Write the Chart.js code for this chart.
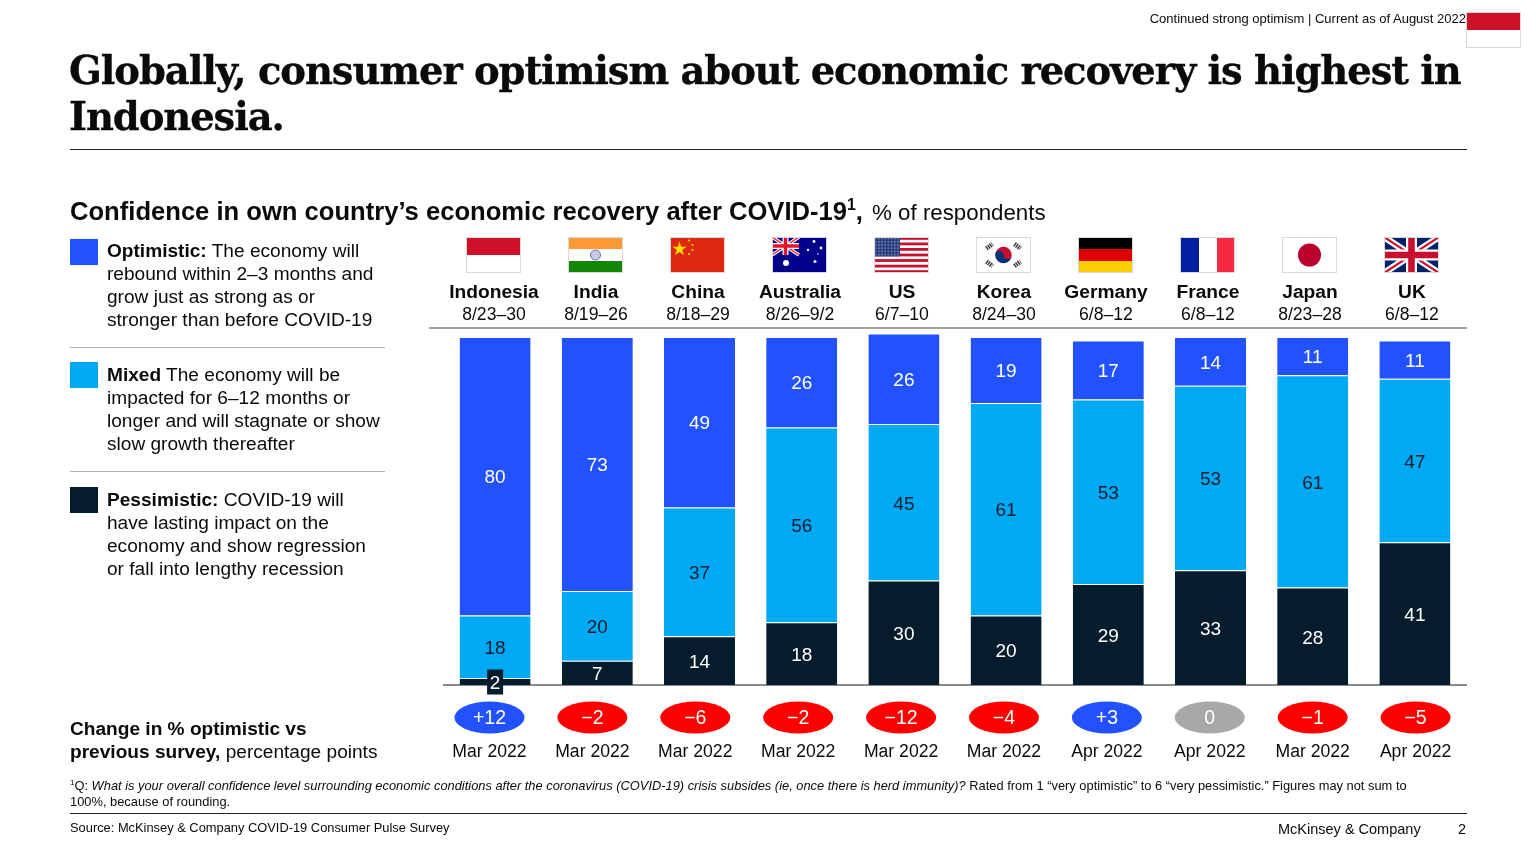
<!DOCTYPE html>
<html><head><meta charset="utf-8">
<script src="https://cdn.jsdelivr.net/npm/chart.js@4"></script>
<style>
html,body{margin:0;padding:0;background:#fff;width:1536px;height:864px;overflow:hidden;font-family:"Liberation Sans",Arial,sans-serif;color:#0a0a0a}
#c{position:absolute;left:0;top:0}
.t{position:absolute;white-space:nowrap}
.rule{position:absolute;height:1px}
.sw{position:absolute;left:70px;width:28px;height:26px}
.leg{position:absolute;left:107px;font-size:19.1px;line-height:23px;white-space:nowrap}
.flag{position:absolute;width:55px;height:36px;top:237px;box-sizing:border-box}
svg{display:block}
sup{font-size:62%;line-height:0}
</style></head><body>
<canvas id="c" width="1536" height="864"></canvas>
<div class="t" style="right:70px;top:11px;font-size:13px;line-height:15px">Continued strong optimism | Current as of August 2022</div>
<div class="t" id="corner" style="left:1466px;top:12px"></div>
<div class="t" style="left:69px;top:48px;font-family:'DejaVu Serif',serif;font-weight:700;font-size:38.5px;line-height:46px;letter-spacing:-1.08px;-webkit-text-stroke:.3px #0a0a0a">Globally, consumer optimism about economic recovery is highest in<br>Indonesia.</div>
<div class="rule" style="left:70px;width:1397px;top:149px;background:#222"></div>
<div class="t" style="left:70px;top:196px;line-height:30px;font-size:25.6px;font-weight:700">Confidence in own country’s economic recovery after COVID-19<sup>1</sup>, <span style="font-weight:400;font-size:22.3px;margin-left:2px">% of respondents</span></div>

<div class="sw" style="top:239px;background:#2251ff"></div>
<div class="leg" style="top:239px"><b>Optimistic:</b> The economy will<br>rebound within 2–3 months and<br>grow just as strong as or<br>stronger than before COVID-19</div>
<div class="rule" style="left:70px;width:315px;top:347px;background:#b0b0b0"></div>
<div class="sw" style="top:362px;background:#00a9f4"></div>
<div class="leg" style="top:363px"><b>Mixed</b> The economy will be<br>impacted for 6–12 months or<br>longer and will stagnate or show<br>slow growth thereafter</div>
<div class="rule" style="left:70px;width:315px;top:471px;background:#b0b0b0"></div>
<div class="sw" style="top:487px;background:#051c2c"></div>
<div class="leg" style="top:488px"><b>Pessimistic:</b> COVID-19 will<br>have lasting impact on the<br>economy and show regression<br>or fall into lengthy recession</div>

<div class="t" style="left:70px;top:717px;font-size:19.1px;line-height:23px"><b>Change in % optimistic vs<br>previous survey,</b> percentage points</div>

<div class="rule" style="left:429px;width:1038px;top:327px;height:2px;background:#a0a0a0"></div>

<div class="t" style="left:70px;top:778px;font-size:12.86px;line-height:16px"><sup>1</sup>Q: <i>What is your overall confidence level surrounding economic conditions after the coronavirus (COVID-19) crisis subsides (ie, once there is herd immunity)?</i> Rated from 1 “very optimistic” to 6 “very pessimistic.” Figures may not sum to<br>100%, because of rounding.</div>
<div class="rule" style="left:70px;width:1397px;top:813px;background:#222"></div>
<div class="t" style="left:70px;top:820px;font-size:12.87px;line-height:15px">Source: McKinsey &amp; Company COVID-19 Consumer Pulse Survey</div>
<div class="t" style="left:1278px;top:821px;font-size:14.5px;line-height:16px">McKinsey &amp; Company</div>
<div class="t" style="right:70px;top:821px;font-size:14.5px;line-height:16px">2</div>

<script>
const countries=["Indonesia","India","China","Australia","US","Korea","Germany","France","Japan","UK"];
const fieldDates=["8/23–30","8/19–26","8/18–29","8/26–9/2","6/7–10","8/24–30","6/8–12","6/8–12","8/23–28","6/8–12"];
const pessimistic=[2,7,14,18,30,20,29,33,28,41];
const mixed=[18,20,37,56,45,61,53,53,61,47];
const optimistic=[80,73,49,26,26,19,17,14,11,11];
const changeLabels=["+12","−2","−6","−2","−12","−4","+3","0","−1","−5"];
const previousSurvey=["Mar 2022","Mar 2022","Mar 2022","Mar 2022","Mar 2022","Mar 2022","Apr 2022","Apr 2022","Mar 2022","Apr 2022"];

const BLUE="#2251ff",CYAN="#00a9f4",NAVY="#051c2c",RED="#ff0000",GREY="#a8a8a8";
const sans='"Liberation Sans", Arial, sans-serif';

const flagSvg={
Indonesia:'<rect width="55" height="18" fill="#ce1126"/><rect y="18" width="55" height="18" fill="#fff"/>',
India:'<rect width="55" height="12" fill="#ff9933"/><rect y="12" width="55" height="12" fill="#fff"/><rect y="24" width="55" height="12" fill="#138808"/><circle cx="27.5" cy="18" r="5" fill="#c9cbe6" stroke="#6a6fb0" stroke-width="1"/>',
China:'<rect width="55" height="36" fill="#de2910"/><path d="M9.5 4.5l1.7 5.2h5.4l-4.4 3.2 1.7 5.2-4.4-3.2-4.4 3.2 1.7-5.2-4.4-3.2h5.4z" fill="#ffde00"/><g fill="#ffde00"><circle cx="19" cy="3.5" r="1.1"/><circle cx="22.5" cy="8" r="1.1"/><circle cx="22.5" cy="13" r="1.1"/><circle cx="19" cy="17" r="1.1"/></g>',
Australia:'<rect width="55" height="36" fill="#00008b"/><g><path d="M0 0L27 18M27 0L0 18" stroke="#fff" stroke-width="3.5"/><path d="M0 0L27 18M27 0L0 18" stroke="#e8112d" stroke-width="1.2"/><path d="M13.5 0V18M0 9H27" stroke="#fff" stroke-width="6"/><path d="M13.5 0V18M0 9H27" stroke="#e8112d" stroke-width="3.4"/></g><g fill="#fff"><circle cx="14" cy="26" r="3"/><circle cx="42" cy="4.5" r="1.4"/><circle cx="36" cy="13" r="1.2"/><circle cx="49" cy="11" r="1.4"/><circle cx="43" cy="24.5" r="1.5"/><circle cx="46" cy="17" r=".8"/></g>',
US:'<rect width="55" height="36" fill="#fff"/><g fill="#c8102e"><rect y="0" width="55" height="2.8"/><rect y="5.5" width="55" height="2.8"/><rect y="11" width="55" height="2.8"/><rect y="16.6" width="55" height="2.8"/><rect y="22.1" width="55" height="2.8"/><rect y="27.7" width="55" height="2.8"/><rect y="33.2" width="55" height="2.8"/></g><rect width="26" height="19.4" fill="#2b3f7e"/><rect width="26" height="19.4" fill="url(#st)"/><defs><pattern id="st" width="3.2" height="3.2" patternUnits="userSpaceOnUse"><circle cx="1.6" cy="1.6" r=".6" fill="#cfd6ea"/></pattern></defs>',
Korea:'<rect width="55" height="36" fill="#fff"/><circle cx="27.5" cy="18" r="8.2" fill="#c60c30"/><path d="M19.3 18a4.1 4.1 0 0 1 8.2 0a4.1 4.1 0 0 0 8.2 0a8.2 8.2 0 0 1-16.4 0z" fill="#003478"/><g stroke="#333" stroke-width="4.6" stroke-dasharray="1.4 .9"><path d="M10.5 11.5L16.5 7"/><path d="M38.5 7L44.5 11.5"/><path d="M10.5 24.5L16.5 29"/><path d="M38.5 29L44.5 24.5"/></g>',
Germany:'<rect width="55" height="12" fill="#000"/><rect y="12" width="55" height="12" fill="#dd0000"/><rect y="24" width="55" height="12" fill="#ffce00"/>',
France:'<rect width="19" height="36" fill="#00209f"/><rect x="19" width="18" height="36" fill="#fff"/><rect x="37" width="18" height="36" fill="#f42a41"/>',
Japan:'<rect width="55" height="36" fill="#fff"/><circle cx="27.5" cy="18" r="11.5" fill="#bc002d"/>',
UK:'<rect width="55" height="36" fill="#012169"/><path d="M0 0L55 36M55 0L0 36" stroke="#fff" stroke-width="6.5"/><path d="M0 0L55 36M55 0L0 36" stroke="#c8102e" stroke-width="2.2"/><path d="M27.5 0V36M0 18H55" stroke="#fff" stroke-width="11"/><path d="M27.5 0V36M0 18H55" stroke="#c8102e" stroke-width="6.6"/>'
};
function flagHtml(name){return '<svg width="55" height="36" viewBox="0 0 55 36">'+flagSvg[name]+'<rect x=".5" y=".5" width="54" height="35" fill="none" stroke="#d8d8d8"/></svg>';}
document.getElementById('corner').innerHTML=flagHtml('Indonesia');

const fixedTicks=s=>{s.ticks=countries.map((_,i)=>({value:i}));};
function fixedHeight(h){return s=>{s.height=h;};}
function offAxis(pos,min,max,labels,font,padding,h,color){
  return {type:'linear',position:pos,min,max,offset:false,afterBuildTicks:fixedTicks,afterFit:fixedHeight(h),
    grid:{display:false,drawTicks:false,offset:false},border:{display:false},
    ticks:{autoSkip:false,maxRotation:0,minRotation:0,padding,color:color||'#0a0a0a',font,callback:v=>labels[v]}};
}
const labelPlugin={id:'marks',afterDatasetsDraw(chart){
  const ctx=chart.ctx;ctx.save();
  ctx.textAlign='center';ctx.textBaseline='middle';
  ctx.font='19px '+sans;
  chart.data.datasets.forEach((ds,di)=>{
    chart.getDatasetMeta(di).data.forEach((el,i)=>{
      const y=(el.y+el.base)/2, h=Math.abs(el.base-el.y);
      if(h<20){ctx.fillStyle=NAVY;ctx.fillRect(el.x-8,y-12,16,25);}
      ctx.fillStyle=(di===1)?NAVY:'#fff';
      ctx.fillText(String(ds.data[i]),el.x,y+2);
    });
  });
  const sc=chart.scales.xSurvey, cy=chart.chartArea.bottom+32.5;
  changeLabels.forEach((lab,i)=>{
    const x=sc.getPixelForValue(i);
    ctx.fillStyle=lab[0]==='+'?BLUE:(lab==='0'?GREY:RED);
    ctx.beginPath();ctx.ellipse(x,cy,35,16,0,0,Math.PI*2);ctx.fill();
    ctx.fillStyle='#fff';ctx.font='19.5px '+sans;
    ctx.fillText(lab,x,cy+1);
  });
  ctx.restore();
}};
const chart=new Chart(document.getElementById('c'),{
  type:'bar',
  data:{labels:countries,datasets:[
    {label:'Pessimistic',data:pessimistic,backgroundColor:NAVY},
    {label:'Mixed',data:mixed,backgroundColor:CYAN},
    {label:'Optimistic',data:optimistic,backgroundColor:BLUE}
  ].map(d=>Object.assign(d,{borderColor:'rgba(255,255,255,.55)',borderWidth:{top:1,bottom:0,left:0,right:0},borderSkipped:false,barPercentage:.695,categoryPercentage:1}))},
  plugins:[labelPlugin],
  options:{responsive:false,animation:false,devicePixelRatio:1,
    layout:{padding:{left:444,right:70,top:280.5,bottom:99}},
    plugins:{legend:{display:false},tooltip:{enabled:false},title:{display:false}},
    scales:{
      x:{stacked:true,position:'bottom',grid:{display:false,drawTicks:false},border:{color:'#8a8a8a',width:2},ticks:{display:false}},
      y:{stacked:true,min:0,max:101,display:false},
      xDates:offAxis('top',-0.49,9.53,fieldDates,{family:sans,size:17.6},7.5,29),
      xNames:offAxis('top',-0.49,9.53,countries,{family:sans,size:19.2,weight:'700'},0,24),
      xSurvey:offAxis('bottom',-0.442,9.49,previousSurvey,{family:sans,size:17.6},57,80)
    }
  }
});
countries.forEach((n,i)=>{
  const d=document.createElement('div');d.className='flag';
  d.style.left=(chart.scales.xDates.getPixelForValue(i)-27.5)+'px';
  d.innerHTML=flagHtml(n);document.body.appendChild(d);
});
</script>
</body></html>
